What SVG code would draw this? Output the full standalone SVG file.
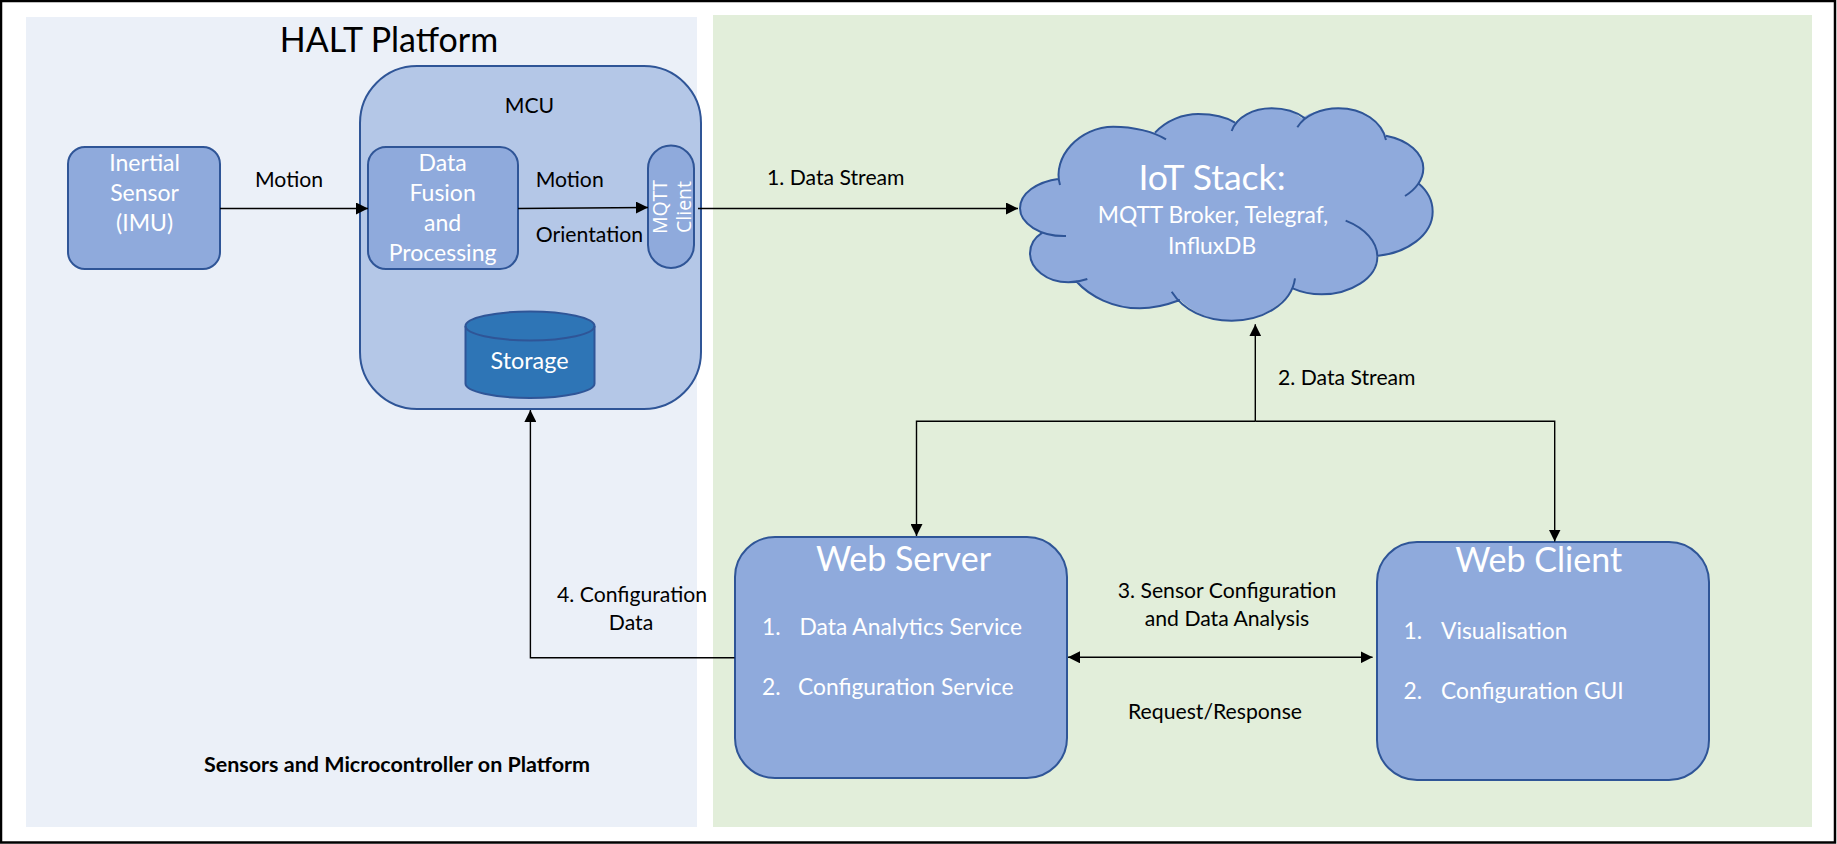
<svg xmlns="http://www.w3.org/2000/svg" width="1837" height="844" viewBox="0 0 1837 844">
<style>
text{font-family:Lato,"Liberation Sans",sans-serif;fill:#000;font-size:21.200px}
.w{fill:#fff}
.m{text-anchor:middle}
.n{fill:#8FAADC;stroke:#2F5597;stroke-width:2}
.c{fill:none;stroke:#000;stroke-width:1.4}
.b{font-size:23px}
.h{font-size:34px}
.l{font-size:22.800px}
.r{font-family:"Open Sans",sans-serif;font-size:19.500px}
</style>
<defs>
<marker id="a" viewBox="0 0 12 12" refX="12" refY="6" markerWidth="12" markerHeight="12" markerUnits="userSpaceOnUse" orient="auto-start-reverse"><path d="M0 0L12 6L0 12Z" fill="#000"/></marker>
</defs>
<rect x="1" y="1" width="1834" height="841.500" fill="#fff" stroke="#000" stroke-width="2.500"/>
<rect id="panel-platform" x="26" y="17" width="671" height="810" fill="#EBF0F8"/>
<rect id="panel-server" x="713" y="15" width="1099" height="812" fill="#E2EEDA"/>
<text id="title" class="m h" x="389" y="52">HALT Platform</text>
<text id="caption" class="m" x="397" y="772" style="font-weight:700;font-size:21.500px">Sensors and Microcontroller on Platform</text>
<g id="mcu">
<rect class="n" x="360" y="66" width="341" height="343" rx="57" style="fill:#B4C7E7"/>
<text class="m" x="529.500" y="112.500">MCU</text>
</g>
<g id="imu">
<rect class="n" x="68" y="147" width="152" height="122" rx="17"/>
<text class="w m b" x="144.600" y="170.700">Inertial</text>
<text class="w m b" x="144.600" y="200.700">Sensor</text>
<text class="w m b" x="144.600" y="230.700">(IMU)</text>
</g>
<g id="fusion">
<rect class="n" x="368" y="147" width="150" height="122" rx="18"/>
<text class="w m b" x="442.600" y="170.700">Data</text>
<text class="w m b" x="442.600" y="201">Fusion</text>
<text class="w m b" x="442.600" y="231">and</text>
<text class="w m b" x="442.600" y="260.700">Processing</text>
</g>
<g id="mqtt-client">
<rect class="n" x="648" y="145.500" width="46" height="122.500" rx="23"/>
<text class="w m r" transform="translate(666.700 207) rotate(-90)">MQTT</text>
<text class="w m r" transform="translate(691 207) rotate(-90)">Client</text>
</g>
<g id="storage">
<path d="M465.500 326V383.500A64.500 14.500 0 0 0 594.500 383.500V326A64.500 14.500 0 0 0 465.500 326Z" fill="#2E75B6" stroke="#2F5597" stroke-width="2"/>
<path d="M465.500 326A64.500 14.500 0 0 0 594.500 326" fill="none" stroke="#2F5597" stroke-width="2"/>
<text class="w m" x="529.500" y="369.300" style="font-size:23.400px">Storage</text>
</g>
<g id="iot-stack">
<g transform="translate(980 80) scale(.33333)">
<path d="M238 297C225 230 300 140 400 140C450 140 495 148 525 158C560 120 610 102 655 102C700 102 740 112 765 128C795 100 835 85 875 85C910 85 945 95 965 115C995 95 1035 85 1075 85C1150 85 1205 125 1218 167C1285 180 1330 220 1330 265C1330 280 1325 295 1315 310C1345 335 1358 365 1358 395C1358 465 1280 520 1190 528C1190 595 1110 643 1025 643C995 643 965 637 938 625C900 685 830 722 755 722C690 722 635 695 600 660C560 675 520 685 480 685C400 685 330 650 288 603C280 606 272 607 265 607C200 607 150 565 150 520C150 495 165 472 187 458C145 445 120 415 120 385C120 340 170 305 238 297Z" fill="#8FAADC"/>
<path fill="none" stroke="#2F5597" stroke-width="6" d="M240 315C215 230 300 140 400 140C460 140 520 155 558 178M525 158C560 120 610 102 655 102C700 102 740 112 765 128M755 153C770 110 820 85 875 85C920 85 955 100 975 115M952 142C975 105 1025 85 1075 85C1150 85 1205 125 1218 180M1218 167C1285 180 1330 220 1330 265C1330 300 1305 330 1275 348M1315 310C1345 335 1358 365 1358 395C1358 465 1280 520 1190 528M1097 422C1155 445 1192 485 1192 530C1192 595 1110 643 1025 643C995 643 965 637 938 625M945 595C935 670 850 722 755 722C675 722 610 690 575 635M600 660C560 675 520 685 480 685C400 685 330 650 288 603M322 597C305 603 285 607 265 607C200 607 150 565 150 520C150 495 165 472 187 458M258 468C180 470 120 430 120 385C120 340 170 305 238 296"/>
</g>
<text class="w m" x="1212" y="190" style="font-size:35.600px">IoT Stack:</text>
<text class="w m l" x="1213" y="223.300">MQTT Broker, Telegraf,</text>
<text class="w m l" x="1212" y="254">InfluxDB</text>
</g>
<g id="web-server">
<rect class="n" x="735" y="537" width="332" height="241" rx="40"/>
<text class="w m h" x="903.500" y="570.700">Web Server</text>
<text class="w l" x="762" y="635">1.</text>
<text class="w l" x="799.500" y="635">Data Analytics Service</text>
<text class="w l" x="762" y="695">2.</text>
<text class="w l" x="798" y="695">Configuration Service</text>
</g>
<g id="web-client">
<rect class="n" x="1377" y="542" width="332" height="238" rx="40"/>
<text class="w m h" x="1538.700" y="572">Web Client</text>
<text class="w l" x="1403.500" y="639">1.</text>
<text class="w l" x="1441" y="639">Visualisation</text>
<text class="w l" x="1403.500" y="699">2.</text>
<text class="w l" x="1441" y="699">Configuration GUI</text>
</g>
<g id="connectors">
<path class="c" marker-end="url(#a)" d="M220 208.500H368"/>
<path class="c" marker-end="url(#a)" d="M518 208.500L648 207.500"/>
<path class="c" marker-end="url(#a)" d="M698 208.500H1018"/>
<path class="c" marker-end="url(#a)" d="M1255.300 421.300V324.300"/>
<path class="c" marker-end="url(#a)" d="M1255.300 421.300H916.500V536"/>
<path class="c" marker-end="url(#a)" d="M1255.300 421.300H1554.700V541.500"/>
<path class="c" marker-end="url(#a)" d="M734.500 657.700H530.400V410"/>
<path class="c" marker-start="url(#a)" marker-end="url(#a)" d="M1068 657.300H1372.600"/>
</g>
<g id="labels">
<text class="m" x="289" y="187">Motion</text>
<text class="m" x="569.700" y="187">Motion</text>
<text x="535.800" y="242">Orientation</text>
<text x="767" y="185">1. Data Stream</text>
<text x="1278" y="385">2. Data Stream</text>
<text x="557" y="601.700">4. Configuration</text>
<text class="m" x="631" y="630">Data</text>
<text class="m" x="1227" y="598">3. Sensor Configuration</text>
<text class="m" x="1227" y="626">and Data Analysis</text>
<text class="m" x="1215" y="719">Request/Response</text>
</g>
</svg>
